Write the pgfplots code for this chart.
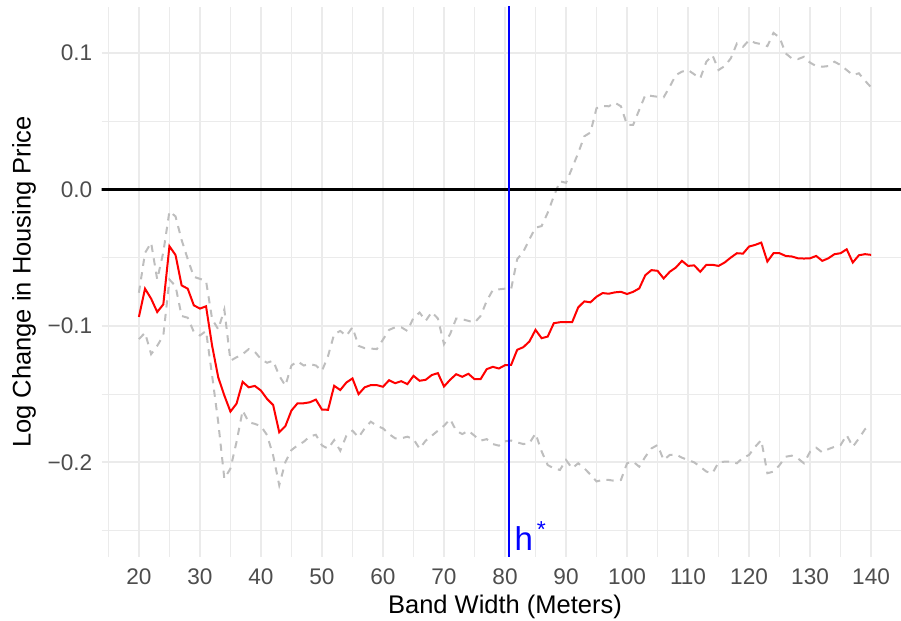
\documentclass[border=0pt]{standalone}
\usepackage{fontspec}
\setmainfont{Liberation Sans}
\usepackage{pgfplots}
\usepackage{pgfplotstable}
\pgfplotsset{compat=1.18}
\usetikzlibrary{calc}

\definecolor{gridgrey}{HTML}{EBEBEB}
\definecolor{ticktext}{HTML}{4D4D4D}
\definecolor{cigrey}{HTML}{BEBEBE}

% band width, estimate, lower and upper bound
\pgfplotstableread{
x est lo hi
20 -0.0934 -0.1097 -0.0757
21 -0.0727 -0.1050 -0.0465
22 -0.0800 -0.1207 -0.0390
23 -0.0898 -0.1146 -0.0660
24 -0.0842 -0.1070 -0.0460
25 -0.0416 -0.0660 -0.0160
26 -0.0480 -0.0708 -0.0197
27 -0.0703 -0.0927 -0.0370
28 -0.0727 -0.0940 -0.0510
29 -0.0849 -0.1044 -0.0640
30 -0.0873 -0.1070 -0.0655
31 -0.0856 -0.1037 -0.0670
32 -0.1146 -0.1365 -0.0950
33 -0.1377 -0.1706 -0.1025
34 -0.1510 -0.2120 -0.0880
35 -0.1628 -0.2046 -0.1255
36 -0.1570 -0.1850 -0.1230
37 -0.1410 -0.1620 -0.1207
38 -0.1450 -0.1706 -0.1170
39 -0.1440 -0.1718 -0.1190
40 -0.1474 -0.1735 -0.1243
41 -0.1535 -0.1800 -0.1270
42 -0.1580 -0.1950 -0.1255
43 -0.1780 -0.2168 -0.1365
44 -0.1735 -0.1998 -0.1438
45 -0.1620 -0.1910 -0.1290
46 -0.1567 -0.1876 -0.1260
47 -0.1567 -0.1850 -0.1290
48 -0.1560 -0.1810 -0.1280
49 -0.1540 -0.1798 -0.1290
50 -0.1613 -0.1876 -0.1330
51 -0.1615 -0.1900 -0.1220
52 -0.1439 -0.1837 -0.1060
53 -0.1470 -0.1915 -0.1037
54 -0.1415 -0.1805 -0.1073
55 -0.1385 -0.1768 -0.1010
56 -0.1500 -0.1817 -0.1146
57 -0.1450 -0.1751 -0.1163
58 -0.1434 -0.1702 -0.1166
59 -0.1434 -0.1732 -0.1170
60 -0.1446 -0.1751 -0.1100
61 -0.1398 -0.1793 -0.1029
62 -0.1420 -0.1824 -0.1010
63 -0.1405 -0.1824 -0.1010
64 -0.1427 -0.1812 -0.1037
65 -0.1366 -0.1830 -0.0940
66 -0.1402 -0.1900 -0.0902
67 -0.1395 -0.1841 -0.0963
68 -0.1360 -0.1805 -0.0898
69 -0.1346 -0.1768 -0.0946
70 -0.1444 -0.1732 -0.1134
71 -0.1395 -0.1683 -0.1060
72 -0.1354 -0.1768 -0.0946
73 -0.1373 -0.1793 -0.0951
74 -0.1351 -0.1768 -0.0963
75 -0.1390 -0.1805 -0.0976
76 -0.1390 -0.1841 -0.0927
77 -0.1317 -0.1830 -0.0817
78 -0.1300 -0.1866 -0.0737
79 -0.1312 -0.1878 -0.0732
80 -0.1288 -0.1846 -0.0727
81 -0.1286 -0.1840 -0.0730
82 -0.1175 -0.1854 -0.0510
83 -0.1156 -0.1866 -0.0457
84 -0.1114 -0.1860 -0.0365
85 -0.1029 -0.1788 -0.0280
86 -0.1090 -0.1920 -0.0268
87 -0.1078 -0.2020 -0.0170
88 -0.0980 -0.2044 -0.0049
89 -0.0973 -0.2056 0.0060
90 -0.0973 -0.1983 0.0049
91 -0.0973 -0.2044 0.0158
92 -0.0864 -0.2007 0.0268
93 -0.0820 -0.2044 0.0390
94 -0.0827 -0.2090 0.0418
95 -0.0786 -0.2140 0.0596
96 -0.0759 -0.2129 0.0613
97 -0.0764 -0.2129 0.0610
98 -0.0754 -0.2136 0.0637
99 -0.0750 -0.2129 0.0610
100 -0.0766 -0.2007 0.0474
101 -0.0750 -0.1995 0.0474
102 -0.0725 -0.2032 0.0584
103 -0.0628 -0.1959 0.0693
104 -0.0591 -0.1898 0.0686
105 -0.0596 -0.1873 0.0680
106 -0.0652 -0.1983 0.0676
107 -0.0603 -0.1946 0.0754
108 -0.0572 -0.1942 0.0839
109 -0.0523 -0.1966 0.0864
110 -0.0560 -0.1983 0.0876
111 -0.0556 -0.2000 0.0845
112 -0.0603 -0.2032 0.0815
113 -0.0552 -0.2068 0.0937
114 -0.0552 -0.2080 0.0985
115 -0.0560 -0.2000 0.0876
116 -0.0535 -0.1995 0.0905
117 -0.0499 -0.1995 0.0961
118 -0.0467 -0.2007 0.1070
119 -0.0470 -0.1966 0.1046
120 -0.0418 -0.1946 0.1095
121 -0.0406 -0.1886 0.1075
122 -0.0389 -0.1837 0.1066
123 -0.0528 -0.2080 0.1051
124 -0.0467 -0.2068 0.1148
125 -0.0467 -0.2020 0.1114
126 -0.0487 -0.1959 0.0998
127 -0.0491 -0.1951 0.0961
128 -0.0504 -0.1971 0.0956
129 -0.0506 -0.2007 0.0973
130 -0.0504 -0.1922 0.0930
131 -0.0487 -0.1893 0.0905
132 -0.0523 -0.1927 0.0900
133 -0.0504 -0.1903 0.0905
134 -0.0474 -0.1886 0.0937
135 -0.0467 -0.1873 0.0912
136 -0.0438 -0.1800 0.0876
137 -0.0535 -0.1886 0.0839
138 -0.0482 -0.1825 0.0852
139 -0.0474 -0.1757 0.0798
140 -0.0479 -0.1727 0.0749
}\bandtab

\begin{document}
\begin{tikzpicture}
\begin{axis}[
    scale only axis,
    width=399.65pt,
    height=275pt,
    xmin=13.9, xmax=144.9,
    ymin=-0.2694, ymax=0.1338,
    axis line style={draw=none},
    major tick length=0pt,
    minor tick length=0pt,
    xtick={20,30,...,140},
    minor xtick={15,25,...,145},
    ytick={-0.2,-0.1,0,0.1},
    yticklabels={−0.2,−0.1,0.0,0.1},
    minor ytick={-0.25,-0.15,-0.05,0.05},
    grid=both,
    major grid style={gridgrey, line width=0.9pt},
    minor grid style={gridgrey, line width=0.5pt},
    tick label style={font=\fontsize{11.3}{13}\selectfont, text=ticktext},
    xticklabel style={yshift=-2.2pt},
    yticklabel style={xshift=-1.2pt},
    /pgf/number format/assume math mode=true,
    label style={font=\fontsize{12.75}{15}\selectfont},
    xlabel={Band Width (Meters)},
    ylabel={Log Change in Housing Price},
    xlabel style={at={(axis description cs:0.5046,-0.1036)}, anchor=base},
    ylabel style={at={(axis description cs:-0.0972,0.5)}, anchor=center},
]
\coordinate (sw) at (rel axis cs:0,0);
\coordinate (ne) at (rel axis cs:1,1);
\addplot[cigrey, line width=1pt, dash pattern=on 3.6pt off 3.2pt] table[x=x, y=hi] {\bandtab};
\addplot[cigrey, line width=1pt, dash pattern=on 3.6pt off 3.2pt] table[x=x, y=lo] {\bandtab};
\addplot[red, line width=1pt] table[x=x, y=est] {\bandtab};
\addplot[black, line width=1.1pt] coordinates {(10,0) (150,0)};
\addplot[blue, line width=1pt] coordinates {(80.6,-0.3) (80.6,0.2)};
\node[blue, anchor=base west, inner sep=0pt, font=\fontsize{16.5}{18}\selectfont]
    at (axis cs:81.5,-0.2643) {h\textsuperscript{\,*}};
\end{axis}
\pgfresetboundingbox
\path[use as bounding box] ($(sw)+(-50.85pt,-32pt)$) rectangle ($(ne)+(0pt,3.5pt)$);
\end{tikzpicture}
\end{document}
